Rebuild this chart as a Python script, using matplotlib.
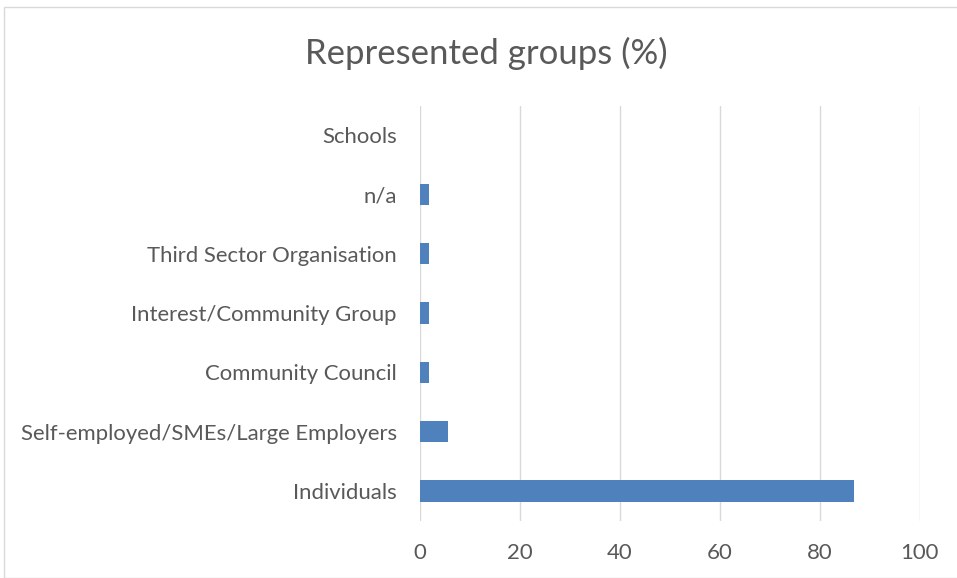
import matplotlib
matplotlib.use("Agg")
import matplotlib.pyplot as plt
from matplotlib.patches import Rectangle

categories = [
    "Individuals",
    "Self-employed/SMEs/Large Employers",
    "Community Council",
    "Interest/Community Group",
    "Third Sector Organisation",
    "n/a",
    "Schools",
]
values = [86.8, 5.6, 1.9, 1.9, 1.9, 1.9, 0.0]
x_ticks = [0, 20, 40, 60, 80, 100]
title = "Represented groups (%)"

W, H = 957, 578
fig = plt.figure(figsize=(W / 100, H / 100), dpi=100)
fig.patch.set_facecolor("white")

# outer chart frame
fig.patches.append(Rectangle((4 / W, 0), 1.2, 1 - 7 / H, transform=fig.transFigure,
                             fill=False, edgecolor="#d9d9d9", linewidth=1.0))

ax = fig.add_axes([419.7 / W, 1 - 520.6 / H, 500 / W, (520.6 - 105.5) / H])
ypos = list(range(len(categories)))
ax.barh(ypos, values, height=0.36, color="#4f81bd", zorder=3)
ax.set_xlim(0, 100)
ax.set_ylim(-0.5, len(categories) - 0.5)
ax.set_xticks(x_ticks)
ax.set_xticklabels([str(t) for t in x_ticks])
ax.set_yticks(ypos)
ax.set_yticklabels(categories)
ax.grid(axis="x", color="#d9d9d9", linewidth=1.0, zorder=0)
for s in ax.spines.values():
    s.set_visible(False)
ax.tick_params(axis="both", length=0, colors="#595959", labelsize=15.9)
ax.tick_params(axis="x", pad=16)
ax.tick_params(axis="y", pad=16.5)
for lab in ax.get_xticklabels() + ax.get_yticklabels():
    lab.set_fontfamily("Lato")
    lab.set_color("#595959")

fig.text(0.5 * (305 + 668) / W, 1 - 53 / H, title, ha="center", va="center",
         fontsize=25, color="#595959", fontfamily="Lato")

fig.savefig("out.png", dpi=100)
